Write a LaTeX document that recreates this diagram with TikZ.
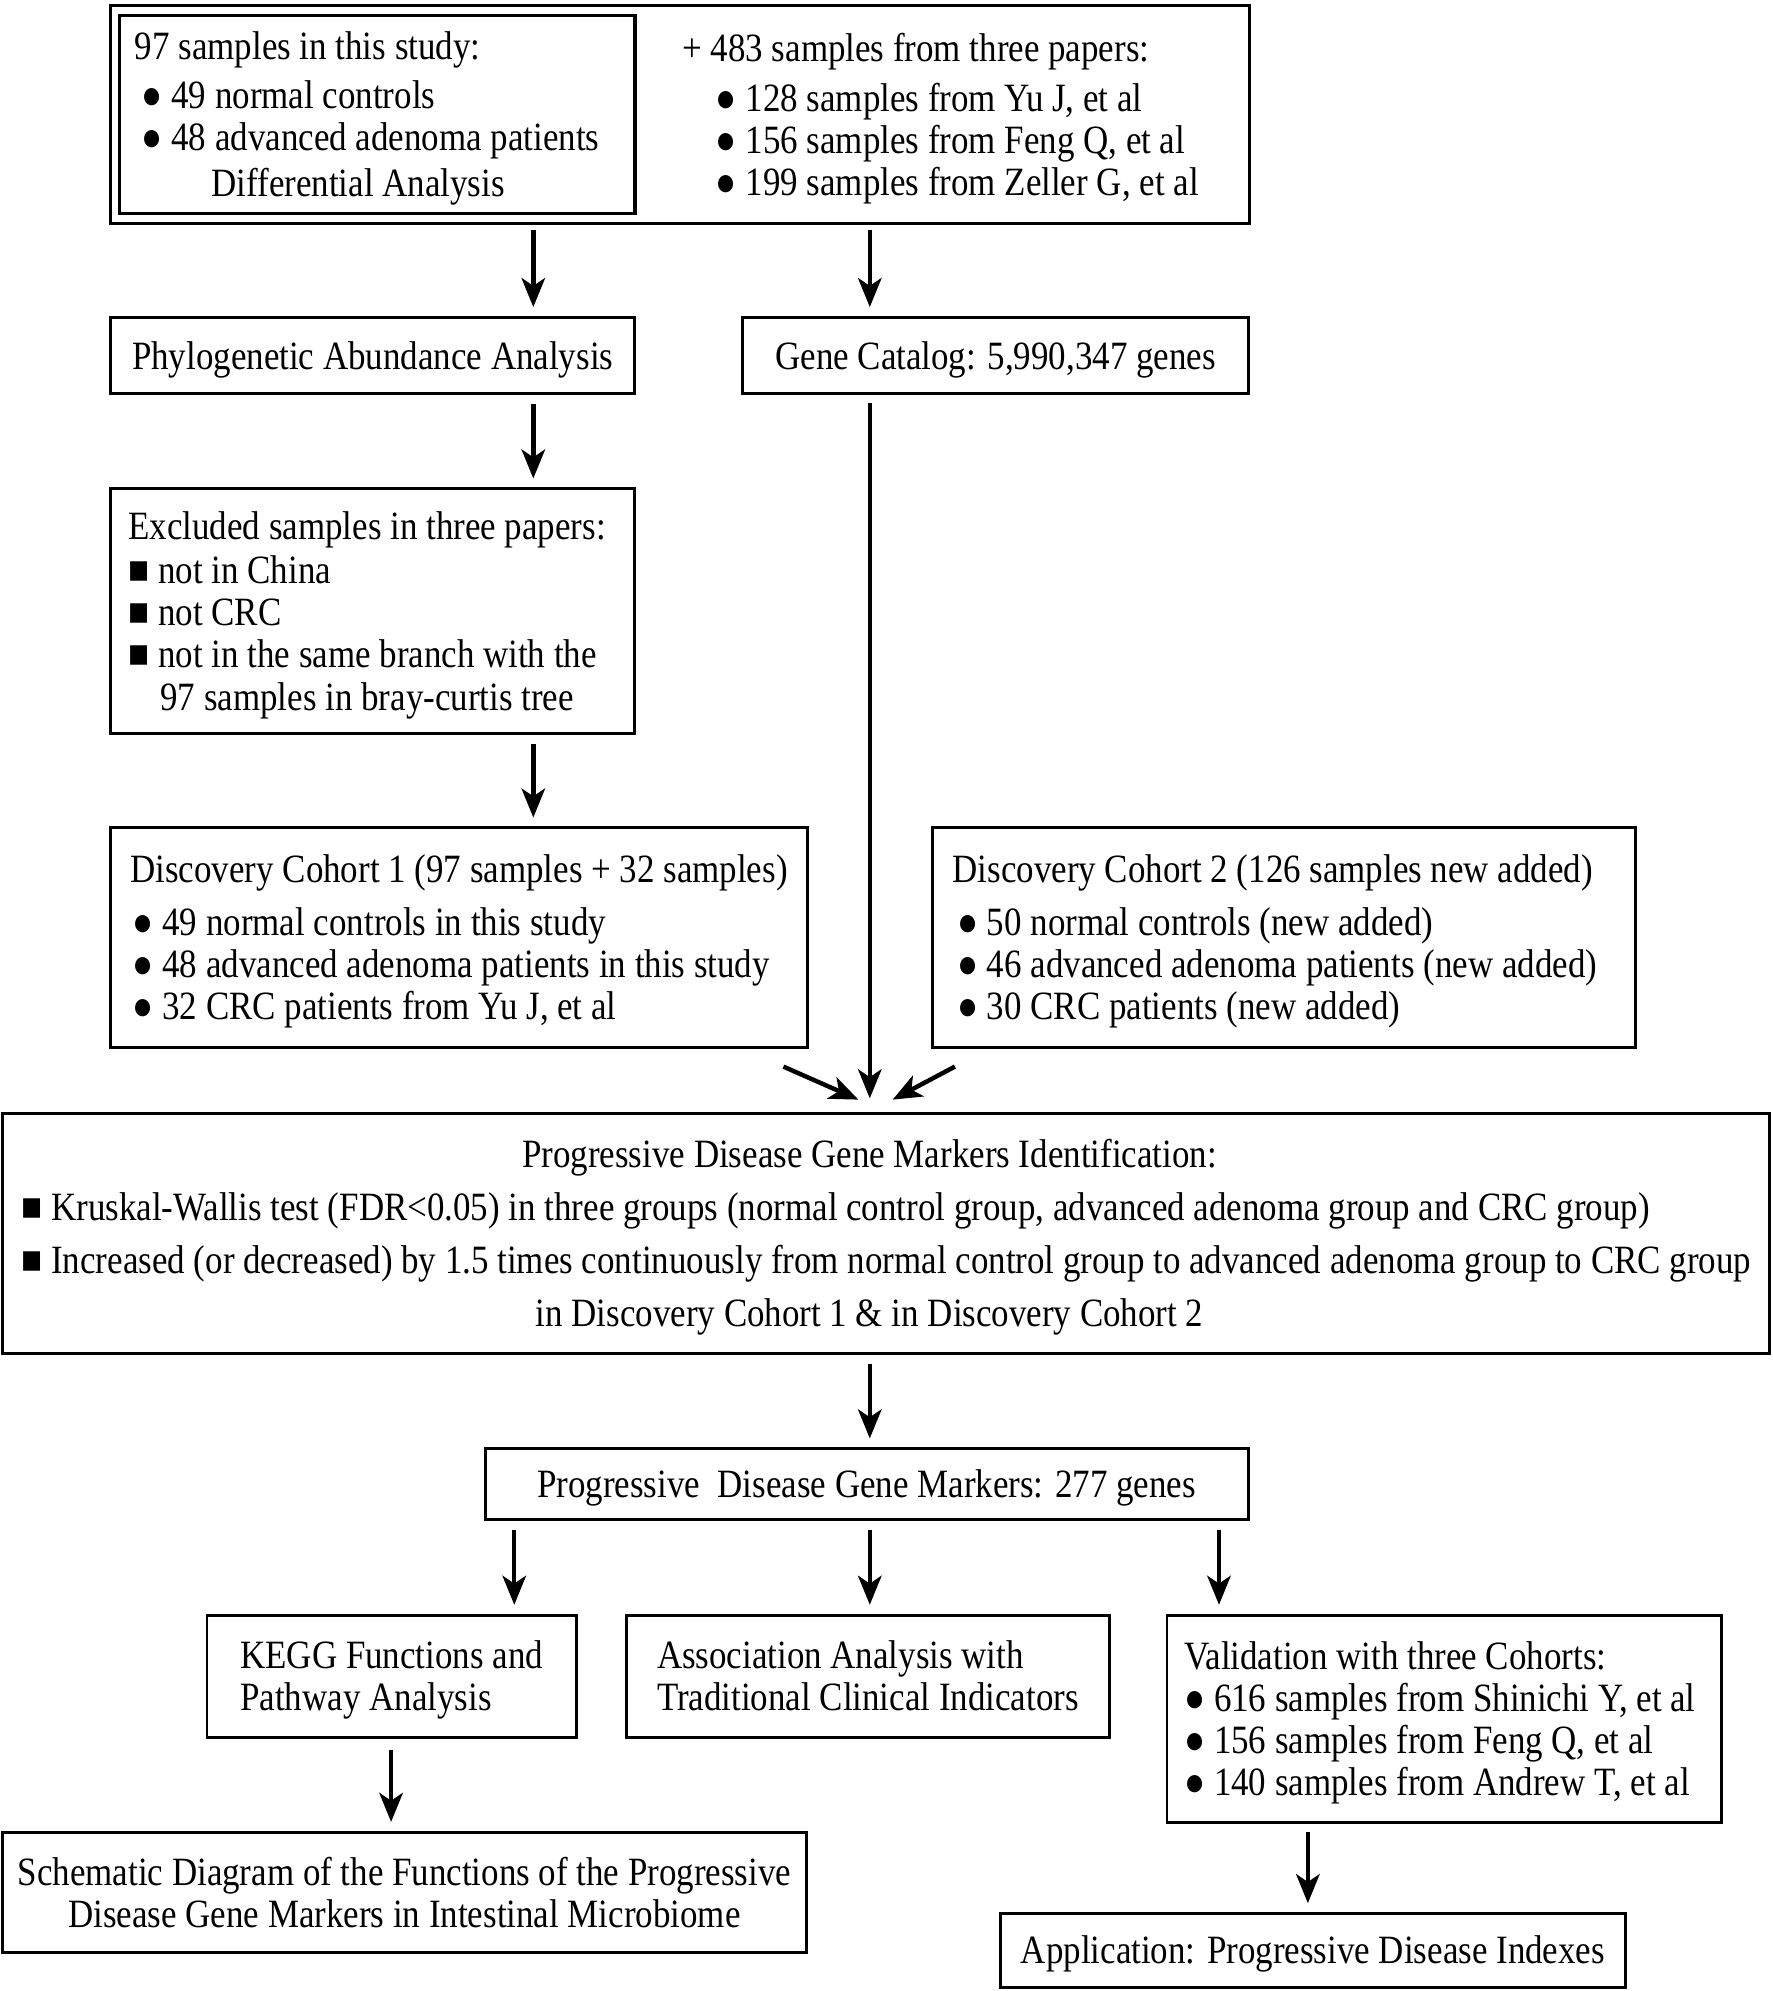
\documentclass[tikz,border=0pt]{standalone}
\usepackage{graphicx}
\usepackage{fontspec}
\setmainfont{Liberation Serif}[FakeStretch=0.87]
\usetikzlibrary{arrows.meta}

% list marks and box contents
\newcommand{\dotitem}{●}
\newcommand{\sqitem}{■}
\newcommand{\boxtext}[2][0pt]{\raisebox{-2.3pt}[\height][\depth]{%
  \begin{tabular}{@{}l@{}}#2\end{tabular}\hspace*{#1}}}

\begin{document}
\begin{tikzpicture}[x=0.02cm, y=-0.02cm,
    every node/.style={font=\fontsize{18}{18.8}\selectfont},
    box/.style={draw, line width=1.3pt, inner sep=0pt},
    arr/.style={-{Stealth[length=13pt, width=10.5pt, inset=3.5pt]}, line width=2pt,
      shorten <=4pt, shorten >=4pt}]
    \useasboundingbox (0,0) rectangle (1396,1568);

    % Sample sources
    \node[box, minimum width=17.94cm, minimum height=3.44cm] (top) at (535.5,90) {};
    \node[box, line width=1.5pt, minimum width=8.12cm, minimum height=3.12cm] (study) at (297,90)
      {\boxtext[9pt]{
        97 samples in this study:\\[3.4pt]
        \hspace*{3pt}\dotitem\ 49 normal controls\\
        \hspace*{3pt}\dotitem\ 48 advanced adenoma patients\\[1.5pt]
        \multicolumn{1}{@{}c@{}}{Differential Analysis\hspace*{8pt}}}};
    \node[inner sep=0pt, anchor=west] (papers) at (537,90.5)
      {\boxtext{
        + 483 samples from three papers:\\[3.4pt]
        \hspace*{15pt}\dotitem\ 128 samples from Yu J, et al\\
        \hspace*{15pt}\dotitem\ 156 samples from Feng Q, et al\\
        \hspace*{15pt}\dotitem\ 199 samples from Zeller G, et al}};

    % Left branch
    \node[box, minimum width=8.26cm, minimum height=1.2cm] (phylo) at (293.5,280)
      {\boxtext{Phylogenetic Abundance Analysis}};
    \node[box, minimum width=8.26cm, minimum height=3.86cm] (excl) at (293.5,481.5)
      {\boxtext[5pt]{
        Excluded samples in three papers:\\[1pt]
        \sqitem\ not in China\\
        \sqitem\ not CRC\\
        \sqitem\ not in the same branch with the\\[0.5pt]
        \hspace*{1pt}\phantom{\sqitem} 97 samples in bray-curtis tree}};
    \node[box, minimum width=10.98cm, minimum height=3.46cm] (disc1) at (361.5,738.5)
      {\boxtext{
        Discovery Cohort 1 (97 samples + 32 samples)\\[5pt]
        \hspace*{1pt}\dotitem\ 49 normal controls in this study\\
        \hspace*{1pt}\dotitem\ 48 advanced adenoma patients in this study\\
        \hspace*{1pt}\dotitem\ 32 CRC patients from Yu J, et al}};

    % Right branch
    \node[box, minimum width=7.96cm, minimum height=1.2cm] (catalog) at (784,280)
      {\boxtext{Gene Catalog: 5,990,347 genes}};
    \node[box, minimum width=11.08cm, minimum height=3.46cm] (disc2) at (1011,738.5)
      {\boxtext[8pt]{
        Discovery Cohort 2 (126 samples new added)\\[5pt]
        \hspace*{2pt}\dotitem\ 50 normal controls (new added)\\
        \hspace*{2pt}\dotitem\ 46 advanced adenoma patients (new added)\\
        \hspace*{2pt}\dotitem\ 30 CRC patients (new added)}};

    % Marker identification
    \node[box, minimum width=27.84cm, minimum height=3.78cm] (ident) at (698,971.5)
      {\boxtext{
        \multicolumn{1}{@{}c@{}}{Progressive Disease Gene Markers Identification:\hspace*{15pt}}\\[5pt]
        \sqitem\ Kruskal-Wallis test (FDR<0.05) in three groups (normal control group, advanced adenoma group and CRC group)\\[5pt]
        \sqitem\ Increased (or decreased) by 1.5 times continuously from normal control group to advanced adenoma group to CRC group\\[5pt]
        \multicolumn{1}{@{}c@{}}{in Discovery Cohort 1 \& in Discovery Cohort 2\hspace*{15pt}}}};
    \node[box, minimum width=12.02cm, minimum height=1.12cm] (markers) at (682.5,1169)
      {\boxtext{Progressive\ \ Disease Gene Markers: 277 genes}};

    % Downstream analyses
    \node[box, minimum width=5.82cm, minimum height=1.92cm] (kegg) at (308.5,1320)
      {\boxtext{KEGG Functions and\\ Pathway Analysis}};
    \node[box, minimum width=7.62cm, minimum height=1.92cm] (assoc) at (683.5,1320)
      {\boxtext{Association Analysis with\\ Traditional Clinical Indicators}};
    \node[box, minimum width=8.74cm, minimum height=3.26cm] (valid) at (1137.5,1353.5)
      {\boxtext[4pt]{
        Validation with three Cohorts:\\
        \dotitem\ 616 samples from Shinichi Y, et al\\
        \dotitem\ 156 samples from Feng Q, et al\\
        \dotitem\ 140 samples from Andrew T, et al}};
    \node[box, minimum width=12.66cm, minimum height=1.9cm] (schem) at (318.5,1490.5)
      {\boxtext{
        \multicolumn{1}{@{}c@{}}{Schematic Diagram of the Functions of the Progressive}\\
        \multicolumn{1}{@{}c@{}}{Disease Gene Markers in Intestinal Microbiome}}};
    \node[box, minimum width=9.84cm, minimum height=1.16cm] (appl) at (1034,1536)
      {\boxtext{Application: Progressive Disease Indexes}};

    % Arrow columns
    \coordinate (colA) at (420,0);
    \coordinate (colB) at (685,0);
    \coordinate (colK) at (405,0);
    \coordinate (colV) at (960,0);
    \coordinate (colS) at (308,0);
    \coordinate (colP) at (1030,0);
    \coordinate (d1tail) at (617,840);
    \coordinate (d1head) at (676,866);
    \coordinate (d2tail) at (752,840);
    \coordinate (d2head) at (703,866);

    % Arrows
    \draw[arr, shorten <=2.5pt] (top.south -| colA) -- (phylo.north -| colA);
    \draw[arr, shorten <=2.5pt] (top.south -| colB) -- (catalog.north -| colB);
    \draw[arr] (phylo.south -| colA) -- (excl.north -| colA);
    \draw[arr] (excl.south -| colA) -- (disc1.north -| colA);
    \draw[arr, shorten <=3.4pt, shorten >=6.2pt] (catalog.south -| colB) -- (ident.north -| colB);
    \draw[arr, shorten <=0pt, shorten >=0pt] (d1tail) -- (d1head);
    \draw[arr, shorten <=0pt, shorten >=0pt] (d2tail) -- (d2head);
    \draw[arr] (ident.south -| colB) -- (markers.north -| colB);
    \draw[arr] (markers.south -| colK) -- (kegg.north -| colK);
    \draw[arr] (markers.south -| colB) -- (assoc.north -| colB);
    \draw[arr] (markers.south -| colV) -- (valid.north -| colV);
    \draw[arr, shorten <=5pt] (kegg.south -| colS) -- (schem.north -| colS);
    \draw[arr] (valid.south -| colP) -- (appl.north -| colP);

\end{tikzpicture}
\end{document}
